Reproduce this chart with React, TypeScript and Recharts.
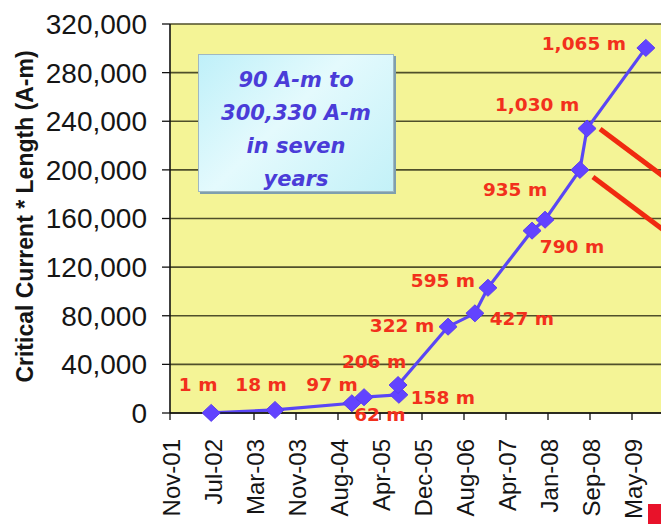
import React from 'react';
import { LineChart, Line, XAxis, YAxis, CartesianGrid, ReferenceLine } from 'recharts';

// Axis tick labels along the period axis (equally spaced)
const periodLabels = ['Nov-01', 'Jul-02', 'Mar-03', 'Nov-03', 'Aug-04', 'Apr-05', 'Dec-05', 'Aug-06', 'Apr-07', 'Jan-08', 'Sep-08', 'May-09'];
const periodTicks = periodLabels.map((_, i) => i);

// Critical current * length axis ticks (A-m)
const yTicks = [0, 40000, 80000, 120000, 160000, 200000, 240000, 280000, 320000];

// Position of each record along the period axis
const recordPeriods = [0.98, 2.5, 4.33, 4.62, 5.45, 5.43, 6.62, 7.26, 7.57, 8.62, 8.93, 9.76, 9.93, 11.33];
// Critical current * length of each record (A-m)
const recordAmps = [90, 2500, 8000, 13000, 15000, 23000, 71000, 82000, 103000, 150000, 159000, 200000, 234000, 300330];
// Piece length of each record
const recordLengths = ['1 m', '18 m', '62 m', '97 m', '158 m', '206 m', '322 m', '427 m', '595 m', '790 m', '935 m', '', '1,030 m', '1,065 m'];

// Where each length label sits relative to its marker
const labelNudges: [number, number][] = [
  [-13, -29], [-14, -26], [28, 11], [-32, -13], [44, 3], [-24, -24], [-46, -1],
  [47, 5], [-45, -7], [40, 16], [-30, -30], [0, 0], [-50, -24], [-62, -5],
];

const data = recordPeriods.map((p, i) => ({ period: p, amps: recordAmps[i], length: recordLengths[i] }));

const SANS = '"Liberation Sans", Arial, sans-serif';
const WIDE = '"DejaVu Sans", Verdana, sans-serif';

const fmt = (v: number) => v.toLocaleString('en-US');

const PeriodTick = (props: any) => {
  const { x, y, payload } = props;
  return (
    <g transform={`translate(${x},${y})`}>
      <text
        x={0}
        y={0}
        dy="0.4em"
        textAnchor="end"
        transform="rotate(-90)"
        fontFamily={SANS}
        fontSize={24}
        fill="#151515"
      >
        {periodLabels[payload.value] ?? ''}
      </text>
    </g>
  );
};

const RecordDot = (props: any) => {
  const { cx, cy, index, payload } = props;
  if (cx == null || cy == null) return <g key={`d-${index}`} />;
  const [dx, dy] = labelNudges[index] ?? [0, 0];
  return (
    <g key={`d-${index}`}>
      <polygon
        points={`${cx},${cy - 8.5} ${cx + 9},${cy} ${cx},${cy + 8.5} ${cx - 9},${cy}`}
        fill="#6243ff"
        stroke="#5a3df0"
        strokeWidth={1}
      />
      {payload.length ? (
        <text
          x={cx + dx}
          y={cy + dy}
          dy="0.36em"
          textAnchor="middle"
          fontFamily={WIDE}
          fontWeight="bold"
          fontSize={18.5}
          fill="#f2301c"
        >
          {payload.length}
        </text>
      ) : null}
    </g>
  );
};

const AxisTitle = (props: any) => {
  const vb = props.viewBox || { x: 0, y: 0, height: 0 };
  const cx = 33;
  const cy = vb.y + vb.height / 2 - 2;
  return (
    <text
      x={cx}
      y={cy}
      textAnchor="middle"
      transform={`rotate(-90, ${cx}, ${cy})`}
      fontFamily={SANS}
      fontWeight="bold"
      fontSize={23}
      fill="#151515"
    >
      Critical Current * Length (A-m)
    </text>
  );
};

export default function App() {
  return (
    <div
      style={{
        position: 'fixed',
        left: 0,
        top: 0,
        width: 661,
        height: 524,
        overflow: 'hidden',
        background: '#ffffff',
      }}
    >
      <LineChart
        width={700}
        height={524}
        data={data}
        margin={{ top: 24, right: 26, left: 0, bottom: 0 }}
      >
        <CartesianGrid
          horizontal
          vertical={false}
          fill="#f4f496"
          stroke="#4f4f2a"
          strokeWidth={1.7}
          fillOpacity={1}
        />
        <XAxis
          dataKey="period"
          type="number"
          domain={[0, 12]}
          ticks={periodTicks}
          interval={0}
          height={111}
          tickSize={7}
          tickMargin={19}
          tick={<PeriodTick />}
          axisLine={{ stroke: '#111', strokeWidth: 1.6 }}
          tickLine={{ stroke: '#111', strokeWidth: 1.3 }}
        />
        <YAxis
          type="number"
          domain={[0, 320000]}
          ticks={yTicks}
          interval={0}
          width={170}
          tickSize={8}
          tickMargin={15}
          tickFormatter={fmt}
          tick={{ fontFamily: SANS, fontSize: 28, fill: '#151515' }}
          axisLine={{ stroke: '#111', strokeWidth: 1.6 }}
          tickLine={{ stroke: '#111', strokeWidth: 1.3 }}
          label={{ content: <AxisTitle /> }}
        />
        <ReferenceLine
          segment={[{ x: 10.24, y: 233600 }, { x: 12, y: 188000 }]}
          stroke="#f02a10"
          strokeWidth={5}
          ifOverflow="visible"
        />
        <ReferenceLine
          segment={[{ x: 10.07, y: 194100 }, { x: 12, y: 144000 }]}
          stroke="#f02a10"
          strokeWidth={5}
          ifOverflow="visible"
        />
        <Line
          type="linear"
          dataKey="amps"
          stroke="#5a46f5"
          strokeWidth={3.2}
          dot={(p: any) => <RecordDot {...p} />}
          activeDot={false}
          isAnimationActive={false}
        />
      </LineChart>

      <div
        style={{
          position: 'absolute',
          left: 198,
          top: 54,
          width: 196,
          height: 138,
          boxSizing: 'border-box',
          border: '1px solid #9fb8c2',
          boxShadow: '2px 2px 0 #7f9fae',
          background: 'linear-gradient(135deg, #bff0f9 0%, #e4fafd 45%, #c3f1f8 100%)',
          display: 'flex',
          flexDirection: 'column',
          alignItems: 'center',
          paddingTop: 9,
          fontFamily: WIDE,
          fontWeight: 'bold',
          fontStyle: 'italic',
          fontSize: 21,
          lineHeight: '33px',
          color: '#4a3cd8',
          textAlign: 'center',
        }}
      >
        <div>90 A-m to</div>
        <div>300,330 A-m</div>
        <div>in seven</div>
        <div>years</div>
      </div>

      <div
        style={{
          position: 'absolute',
          left: 648,
          top: 504,
          width: 13,
          height: 20,
          background: '#e8122a',
        }}
      />
    </div>
  );
}
